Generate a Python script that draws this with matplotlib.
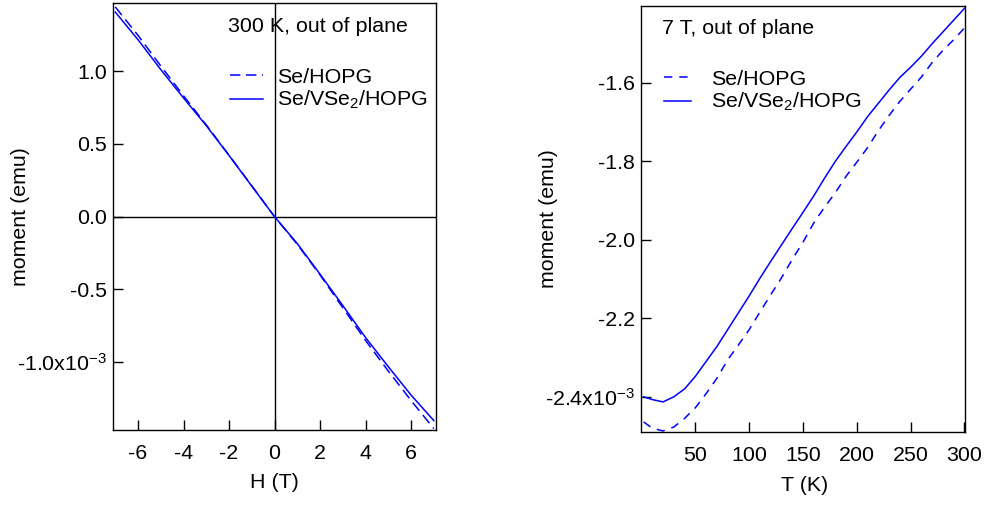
"""
Se/HOPG vs Se/VSe2/HOPG magnetisation:
  left  - moment vs field at 300 K (out of plane)
  right - moment vs temperature at 7 T (out of plane)
"""
import matplotlib
matplotlib.use("Agg")
import matplotlib.pyplot as plt
from matplotlib.lines import Line2D

plt.rcParams["font.family"] = ["Liberation Sans", "DejaVu Sans"]
plt.rcParams["mathtext.fontset"] = "custom"
plt.rcParams["mathtext.rm"] = "Liberation Sans"
plt.rcParams["mathtext.default"] = "regular"
plt.rcParams["axes.unicode_minus"] = False
plt.rcParams["lines.scale_dashes"] = False

BLUE = "#0000ff"
FS = 15.4

# ---- 300 K field sweep, moment in units of 1e-3 emu
field_T = [-7, -6, -5, -4, -3, -2, -1, 0, 1, 2, 3, 4, 5, 6, 7]
m_se_hopg = [1.440, 1.245, 1.035, 0.830, 0.630, 0.422, 0.212, 0.000,
             -0.190, -0.400, -0.625, -0.850, -1.060, -1.262, -1.455]
m_se_vse2_hopg = [1.405, 1.215, 1.010, 0.815, 0.625, 0.420, 0.210, 0.000,
                  -0.185, -0.395, -0.610, -0.830, -1.030, -1.225, -1.400]

# ---- 7 T temperature sweep, moment in units of 1e-3 emu
temp_K = [2, 10, 20, 30, 40, 50, 60, 70, 80, 90, 100, 110, 120, 130, 140, 150,
          160, 170, 180, 190, 200, 210, 220, 230, 240, 250, 260, 270, 280, 290, 300]
mt_se_hopg = [-2.464, -2.480, -2.487, -2.477, -2.455, -2.428, -2.392, -2.353,
              -2.306, -2.268, -2.229, -2.184, -2.140, -2.097, -2.050, -2.006,
              -1.957, -1.917, -1.880, -1.838, -1.802, -1.765, -1.722, -1.683,
              -1.647, -1.616, -1.585, -1.548, -1.517, -1.490, -1.460]
mt_se_vse2_hopg = [-2.400, -2.407, -2.413, -2.400, -2.380, -2.348, -2.310, -2.272,
                   -2.229, -2.186, -2.143, -2.098, -2.055, -2.013, -1.971, -1.930,
                   -1.888, -1.843, -1.800, -1.762, -1.725, -1.686, -1.652, -1.618,
                   -1.586, -1.560, -1.532, -1.500, -1.470, -1.440, -1.410]

h_ticks = [-6, -4, -2, 0, 2, 4, 6]
h_tick_labels = ["-6", "-4", "-2", "0", "2", "4", "6"]
m_ticks_left = [1.0, 0.5, 0.0, -0.5, -1.0]
m_tick_labels_left = ["1.0", "0.5", "0.0", "-0.5", "-1.0x10$^{-3}$"]
t_ticks = [50, 100, 150, 200, 250, 300]
t_tick_labels = ["50", "100", "150", "200", "250", "300"]
m_ticks_right = [-1.6, -1.8, -2.0, -2.2, -2.4]
m_tick_labels_right = ["-1.6", "-1.8", "-2.0", "-2.2", "-2.4x10$^{-3}$"]

labels = ["Se/HOPG", "Se/VSe$_2$/HOPG"]


def style_axes(ax):
    for sp in ax.spines.values():
        sp.set_linewidth(1.0)
    ax.tick_params(direction="in", length=7, width=1.0, labelsize=FS,
                   top=False, right=False)
    ax.tick_params(axis="x", pad=10.0)
    ax.tick_params(axis="y", pad=4.3)


fig = plt.figure(figsize=(9.87, 5.05), dpi=100)

# ---------------- left: M(H) at 300 K
ax1 = fig.add_axes([0.1145, 0.1485, 0.3273, 0.8455])
ax1.axhline(0, color="black", lw=1.0, zorder=1)
ax1.axvline(0, color="black", lw=1.0, zorder=1)
ax1.plot(field_T, m_se_hopg, color=BLUE, lw=1.1, dashes=(7.5, 4), zorder=3)
ax1.plot(field_T, m_se_vse2_hopg, color=BLUE, lw=1.1, zorder=3)
ax1.set_xlim(-7.1, 7.1)
ax1.set_ylim(-1.465, 1.467)
ax1.set_xticks(h_ticks)
ax1.set_xticklabels(h_tick_labels)
ax1.set_yticks(m_ticks_left)
ax1.set_yticklabels(m_tick_labels_left)
style_axes(ax1)
ax1.set_xlabel("H (T)", fontsize=FS)
ax1.set_ylabel("moment (emu)", fontsize=FS)
ax1.xaxis.set_label_coords(0.5, -0.101)
ax1.yaxis.set_label_coords(-0.2585, 0.5)
ax1.text(0.355, 0.9445, "300 K, out of plane", transform=ax1.transAxes,
         fontsize=FS, va="center", ha="left")
h1 = [Line2D([], [], color=BLUE, lw=1.1, dashes=(7.5, 4)),
      Line2D([], [], color=BLUE, lw=1.1)]
ax1.legend(h1, labels, loc="upper left", bbox_to_anchor=(0.362, 0.848),
           frameon=False, fontsize=FS, handlelength=1.55, handletextpad=0.65,
           labelspacing=0.1, borderpad=0, borderaxespad=0)

# ---------------- right: M(T) at 7 T
ax2 = fig.add_axes([0.6494, 0.1451, 0.3283, 0.843])
ax2.plot(temp_K, mt_se_hopg, color=BLUE, lw=1.1, dashes=(6, 5))
ax2.plot(temp_K, mt_se_vse2_hopg, color=BLUE, lw=1.1)
ax2.set_xlim(-0.5, 300.5)
ax2.set_ylim(-2.489, -1.404)
ax2.set_xticks(t_ticks)
ax2.set_xticklabels(t_tick_labels)
ax2.set_yticks(m_ticks_right)
ax2.set_yticklabels(m_tick_labels_right)
style_axes(ax2)
ax2.set_xlabel("T (K)", fontsize=FS)
ax2.set_ylabel("moment (emu)", fontsize=FS)
ax2.xaxis.set_label_coords(0.505, -0.104)
ax2.yaxis.set_label_coords(-0.2568, 0.5)
ax2.text(0.064, 0.946, "7 T, out of plane", transform=ax2.transAxes,
         fontsize=FS, va="center", ha="left")
h2 = [Line2D([], [], color=BLUE, lw=1.1, dashes=(6, 5)),
      Line2D([], [], color=BLUE, lw=1.1)]
ax2.legend(h2, labels, loc="upper left", bbox_to_anchor=(0.071, 0.850),
           frameon=False, fontsize=FS, handlelength=1.26, handletextpad=0.95,
           labelspacing=0.1, borderpad=0, borderaxespad=0)

fig.savefig("out.png", dpi=100)
plt.close(fig)
